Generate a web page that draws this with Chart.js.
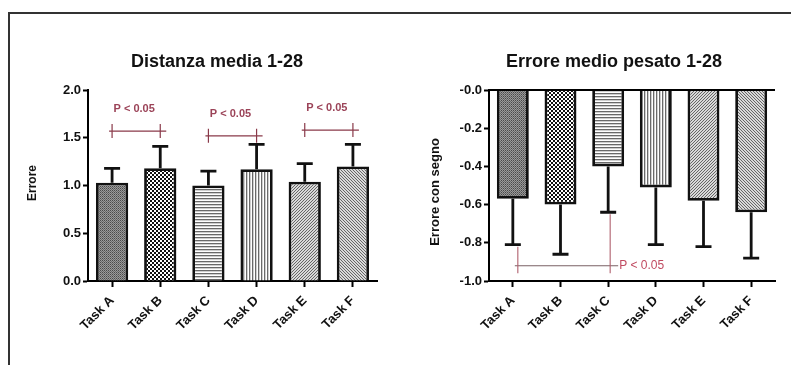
<!DOCTYPE html>
<html><head><meta charset="utf-8">
<script src="https://cdn.jsdelivr.net/npm/chart.js@4/dist/chart.umd.min.js"></script>
<style>
html,body{margin:0;padding:0;background:#fff;width:791px;height:365px;overflow:hidden;}
#frame{position:absolute;left:8px;top:12px;width:800px;height:380px;border-top:2px solid #333;border-left:2px solid #333;}
.wrap{position:absolute;top:0;}
</style></head><body>
<div id="frame"></div>
<div class="wrap" style="left:0;width:395px;height:365px"><canvas id="c1" width="395" height="365"></canvas></div>
<div class="wrap" style="left:395px;width:396px;height:365px"><canvas id="c2" width="396" height="365"></canvas></div>
<script>
// ---- data ----
const categories = ['Task A','Task B','Task C','Task D','Task E','Task F'];
const distanzaMean = [1.03, 1.18, 1.00, 1.17, 1.04, 1.20];
const distanzaSD   = [0.15, 0.23, 0.15, 0.26, 0.19, 0.23];
const erroreMean   = [-0.57, -0.60, -0.40, -0.51, -0.58, -0.64];
const erroreSD     = [0.24, 0.26, 0.24, 0.30, 0.24, 0.24];
const distanzaTicks = ['0.0','0.5','1.0','1.5','2.0'];
const erroreTicks   = ['-1.0','-0.8','-0.6','-0.4','-0.2','-0.0'];
const distanzaSigPairs = [[0,1],[2,3],[4,5]];
const distanzaSigY     = [1.57, 1.52, 1.58];
const distanzaSigLabelY= [1.80, 1.75, 1.815];
const erroreSigPair = [0,2];
const erroreSigY = -0.92;
const erroreSigBottom = -0.96;
const sigLabel = 'P < 0.05';
const titles = ['Distanza media 1-28','Errore medio pesato 1-28'];
const yTitles = ['Errore','Errore con segno'];

const FONT = '"Liberation Sans", Arial, Helvetica, sans-serif';

function makePattern(type){
  const c = document.createElement('canvas');
  const x = c.getContext('2d');
  const px = (a,b,col)=>{x.fillStyle=col;x.fillRect(a,b,1,1);};
  if(type==='A'){ c.width=2;c.height=2; x.fillStyle='#9a9a9a';x.fillRect(0,0,2,2); px(0,0,'#4a4a4a'); px(1,1,'#6a6a6a'); }
  else if(type==='B'){ c.width=4;c.height=4; x.fillStyle='#fff';x.fillRect(0,0,4,4); x.fillStyle='#111'; x.fillRect(2,0,2,2); x.fillRect(0,2,2,2); }
  else if(type==='C'){ c.width=1;c.height=3; x.fillStyle='#fff';x.fillRect(0,0,1,3); px(0,0,'#6a6a6a'); px(0,1,'#cfcfcf'); }
  else if(type==='D'){ c.width=3;c.height=1; x.fillStyle='#fff';x.fillRect(0,0,3,1); px(0,0,'#6a6a6a'); px(1,0,'#cfcfcf'); }
  else if(type==='E'){ c.width=3;c.height=3; x.fillStyle='#d9d9d9';x.fillRect(0,0,3,3); px(2,0,'#666'); px(1,1,'#666'); px(0,2,'#666'); }
  else if(type==='F'){ c.width=3;c.height=3; x.fillStyle='#d9d9d9';x.fillRect(0,0,3,3); px(0,0,'#666'); px(1,1,'#666'); px(2,2,'#666'); }
  return x.createPattern(c,'repeat');
}
const patterns = ['A','B','C','D','E','F'].map(makePattern);

const annot = {
  id:'annot',
  afterDatasetsDraw(chart, args, o){
    const ctx = chart.ctx, xs = chart.scales.x, ys = chart.scales.y, ca = chart.chartArea;
    ctx.save();
    if(o.zeroLine){
      const y0 = ys.getPixelForValue(0);
      ctx.strokeStyle='#000'; ctx.lineWidth=2;
      ctx.beginPath(); ctx.moveTo(ca.left,y0); ctx.lineTo(ca.right,y0); ctx.stroke();
    }
    ctx.strokeStyle='#111'; ctx.lineWidth=2.8;
    o.means.forEach((m,i)=>{
      const x = xs.getPixelForValue(i);
      const y1 = ys.getPixelForValue(m), y2 = ys.getPixelForValue(m + o.dir*o.sd[i]);
      ctx.beginPath(); ctx.moveTo(x,y1); ctx.lineTo(x,y2);
      ctx.moveTo(x-8,y2); ctx.lineTo(x+8,y2); ctx.stroke();
    });
    if(o.kind==='left'){
      distanzaSigPairs.forEach((p,k)=>{
        const xa = xs.getPixelForValue(p[0]), xb = xs.getPixelForValue(p[1]);
        const y = ys.getPixelForValue(distanzaSigY[k]);
        ctx.strokeStyle='#8a3a4a'; ctx.lineWidth=1.2;
        ctx.beginPath();
        ctx.moveTo(xa-3,y); ctx.lineTo(xb+6,y);
        ctx.moveTo(xa,y-7); ctx.lineTo(xa,y+7);
        ctx.moveTo(xb,y-7); ctx.lineTo(xb,y+7);
        ctx.stroke();
        ctx.fillStyle='#9b4358'; ctx.font='bold 11px '+FONT;
        ctx.textAlign='center'; ctx.textBaseline='middle';
        ctx.fillText(sigLabel,(xa+xb)/2-2, ys.getPixelForValue(distanzaSigLabelY[k]));
      });
    } else {
      const xa = xs.getPixelForValue(erroreSigPair[0])+5, xb = xs.getPixelForValue(erroreSigPair[1])+2;
      const y = ys.getPixelForValue(erroreSigY), yb = ys.getPixelForValue(erroreSigBottom);
      const ta = ys.getPixelForValue(erroreMean[erroreSigPair[0]]-erroreSD[erroreSigPair[0]]);
      const tb = ys.getPixelForValue(erroreMean[erroreSigPair[1]]-erroreSD[erroreSigPair[1]]);
      ctx.lineWidth=1.1;
      ctx.strokeStyle='#7a6065';
      ctx.beginPath(); ctx.moveTo(xa-3,y); ctx.lineTo(xb+8,y); ctx.stroke();
      ctx.strokeStyle='#b0606e';
      ctx.beginPath(); ctx.moveTo(xa,ta+2); ctx.lineTo(xa,yb); ctx.moveTo(xb,tb+2); ctx.lineTo(xb,yb); ctx.stroke();
      ctx.fillStyle='#c04a60'; ctx.font='12px '+FONT;
      ctx.textAlign='left'; ctx.textBaseline='middle';
      ctx.fillText(sigLabel, xb+9, y);
    }
    // title
    ctx.fillStyle='#111'; ctx.font='bold 18px '+FONT; ctx.textAlign='center'; ctx.textBaseline='middle';
    ctx.fillText(o.title, o.titleX, o.titleY);
    // y axis title
    ctx.save();
    ctx.translate(o.yTitleX, o.yTitleY); ctx.rotate(-Math.PI/2);
    ctx.font='bold '+o.yTitleSize+'px '+FONT; ctx.fillText(o.yTitle,0,0);
    ctx.restore();
    ctx.restore();
  }
};

function build(id, cfg){
  return new Chart(document.getElementById(id), {
    type:'bar',
    data:{ labels:categories, datasets:[{ data:cfg.means, backgroundColor:patterns, borderColor:'#111', borderWidth:2.8, categoryPercentage:1, barPercentage:0.67 }]},
    options:{
      responsive:false, animation:false, devicePixelRatio:1,
      layout:{ padding:{ left:0, right:cfg.padRight, top:90, bottom:0 } },
      plugins:{ legend:{display:false}, tooltip:{enabled:false}, title:{display:false},
        annot:{ means:cfg.means, sd:cfg.sd, dir:cfg.dir, kind:cfg.kind, zeroLine:cfg.zeroLine, title:cfg.title, titleX:cfg.titleX, titleY:62,
          yTitle:cfg.yTitle, yTitleX:cfg.yTitleX, yTitleY:cfg.yTitleY, yTitleSize:cfg.yTitleSize } },
      scales:{
        x:{ grid:{ display:true, offset:false, drawOnChartArea:false, drawTicks:true, tickLength:6, tickColor:'#000', tickWidth:2 },
            border:{ display:true, color:'#000', width:2 },
            ticks:{ color:'#111', font:{ family:FONT, size:13, weight:'bold' }, minRotation:45, maxRotation:45, autoSkip:false, padding:6 },
            afterFit(s){ s.height = 84; } },
        y:{ min:cfg.min, max:cfg.max, ticks:{ stepSize:cfg.step, color:'#111', font:{ family:FONT, size:13, weight:'bold' }, padding:2,
              callback:(v,i)=>cfg.tickLabels[i] },
            grid:{ display:true, drawOnChartArea:false, drawTicks:true, tickLength:5, tickColor:'#000', tickWidth:2 },
            border:{ display:true, color:'#000', width:2 },
            afterFit(s){ s.width = cfg.yWidth; } }
      }
    },
    plugins:[annot]
  });
}

build('c1', { means:distanzaMean, sd:distanzaSD, dir:1, kind:'left', zeroLine:false, title:titles[0], titleX:217,
  padRight:18, min:0, max:2, step:0.5, tickLabels:distanzaTicks, yTitle:yTitles[0], yTitleSize:12, yTitleX:33, yTitleY:183, yWidth:88 });
build('c2', { means:erroreMean, sd:erroreSD, dir:-1, kind:'right', zeroLine:true, title:titles[1], titleX:219,
  padRight:16, min:-1, max:0, step:0.2, tickLabels:erroreTicks, yTitle:yTitles[1], yTitleSize:13, yTitleX:40, yTitleY:192, yWidth:94 });
</script>
</body></html>
